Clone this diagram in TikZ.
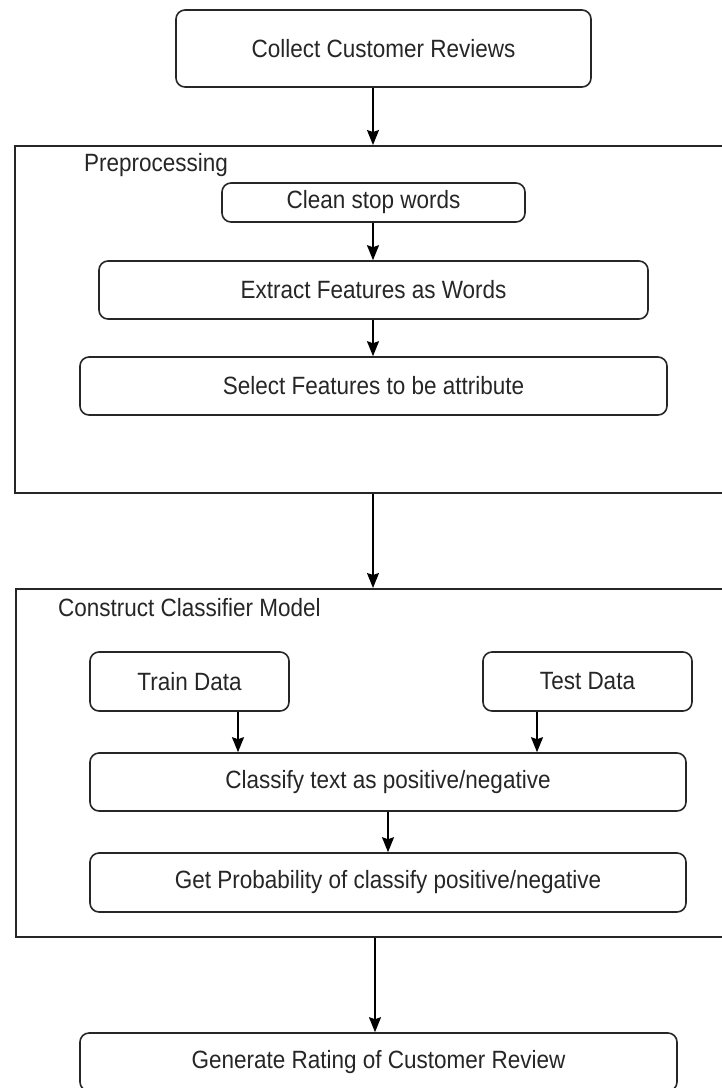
\documentclass[tikz,border=0pt]{standalone}
\usepackage{fontspec}
\setmainfont{Liberation Sans}[FakeStretch=0.9]
\usetikzlibrary{arrows.meta}
\begin{document}
\begin{tikzpicture}[x=1pt,y=-1pt,
  every node/.style={font=\fontsize{25}{30}\selectfont, text=black!85},
  box/.style={draw=black!85, line width=1.6pt, rounded corners=9pt, inner sep=0pt, anchor=center},
  frame/.style={draw=black!85, line width=1.6pt, inner sep=0pt, anchor=north west},
  arr/.style={draw=black, line width=1.6pt, -{Stealth[length=15pt,width=12pt,inset=2pt]}},
  lbl/.style={anchor=west, inner sep=0pt}]
\clip (0,0) rectangle (722,1088);
\useasboundingbox (0,0) rectangle (722,1088);
% containers
\node[frame, minimum width=720pt, minimum height=347pt] (pre) at (14,145) {};
\node[frame, minimum width=720pt, minimum height=348pt] (ccm) at (15,588) {};
\node[lbl] (prelbl) at (84,165) {Preprocessing};
\node[lbl] (ccmlbl) at (58,608) {Construct Classifier Model};
% boxes
\node[box, minimum width=415pt, minimum height=77pt] (collect) at (383.5,48.5) {Collect Customer Reviews};
\node[box, minimum width=303pt, minimum height=39pt] (clean) at (373.5,202.5) {Clean stop words};
\node[box, minimum width=549pt, minimum height=58pt] (extract) at (373.5,290) {Extract Features as Words};
\node[box, minimum width=587pt, minimum height=58pt] (select) at (373.5,386) {Select Features to be attribute};
\node[box, minimum width=199pt, minimum height=59pt] (train) at (189.5,681.5) {Train Data};
\node[box, minimum width=209pt, minimum height=59pt] (test) at (587.5,681.5) {Test Data};
\node[box, minimum width=596pt, minimum height=58pt] (classify) at (388,782) {Classify text as positive/negative};
\node[box, minimum width=596pt, minimum height=59pt] (prob) at (388,882.5) {Get Probability of classify positive/negative};
\node[box, minimum width=597pt, minimum height=58pt] (gen) at (378.5,1062) {Generate Rating of Customer Review};
% arrow x positions
\coordinate (xa) at (373,0);
\coordinate (xt) at (238,0);
\coordinate (xs) at (537,0);
\coordinate (xg) at (375,0);
% connectors
\draw[arr] (xa |- collect.south) -- (xa |- pre.north);
\draw[arr] (xa |- clean.south) -- (xa |- extract.north);
\draw[arr] (xa |- extract.south) -- (xa |- select.north);
\draw[arr] (xa |- pre.south) -- (xa |- ccm.north);
\draw[arr] (xt |- train.south) -- (xt |- classify.north);
\draw[arr] (xs |- test.south) -- (xs |- classify.north);
\draw[arr] (classify.south) -- (prob.north);
\draw[arr] (xg |- ccm.south) -- (xg |- gen.north);
\end{tikzpicture}
\end{document}
